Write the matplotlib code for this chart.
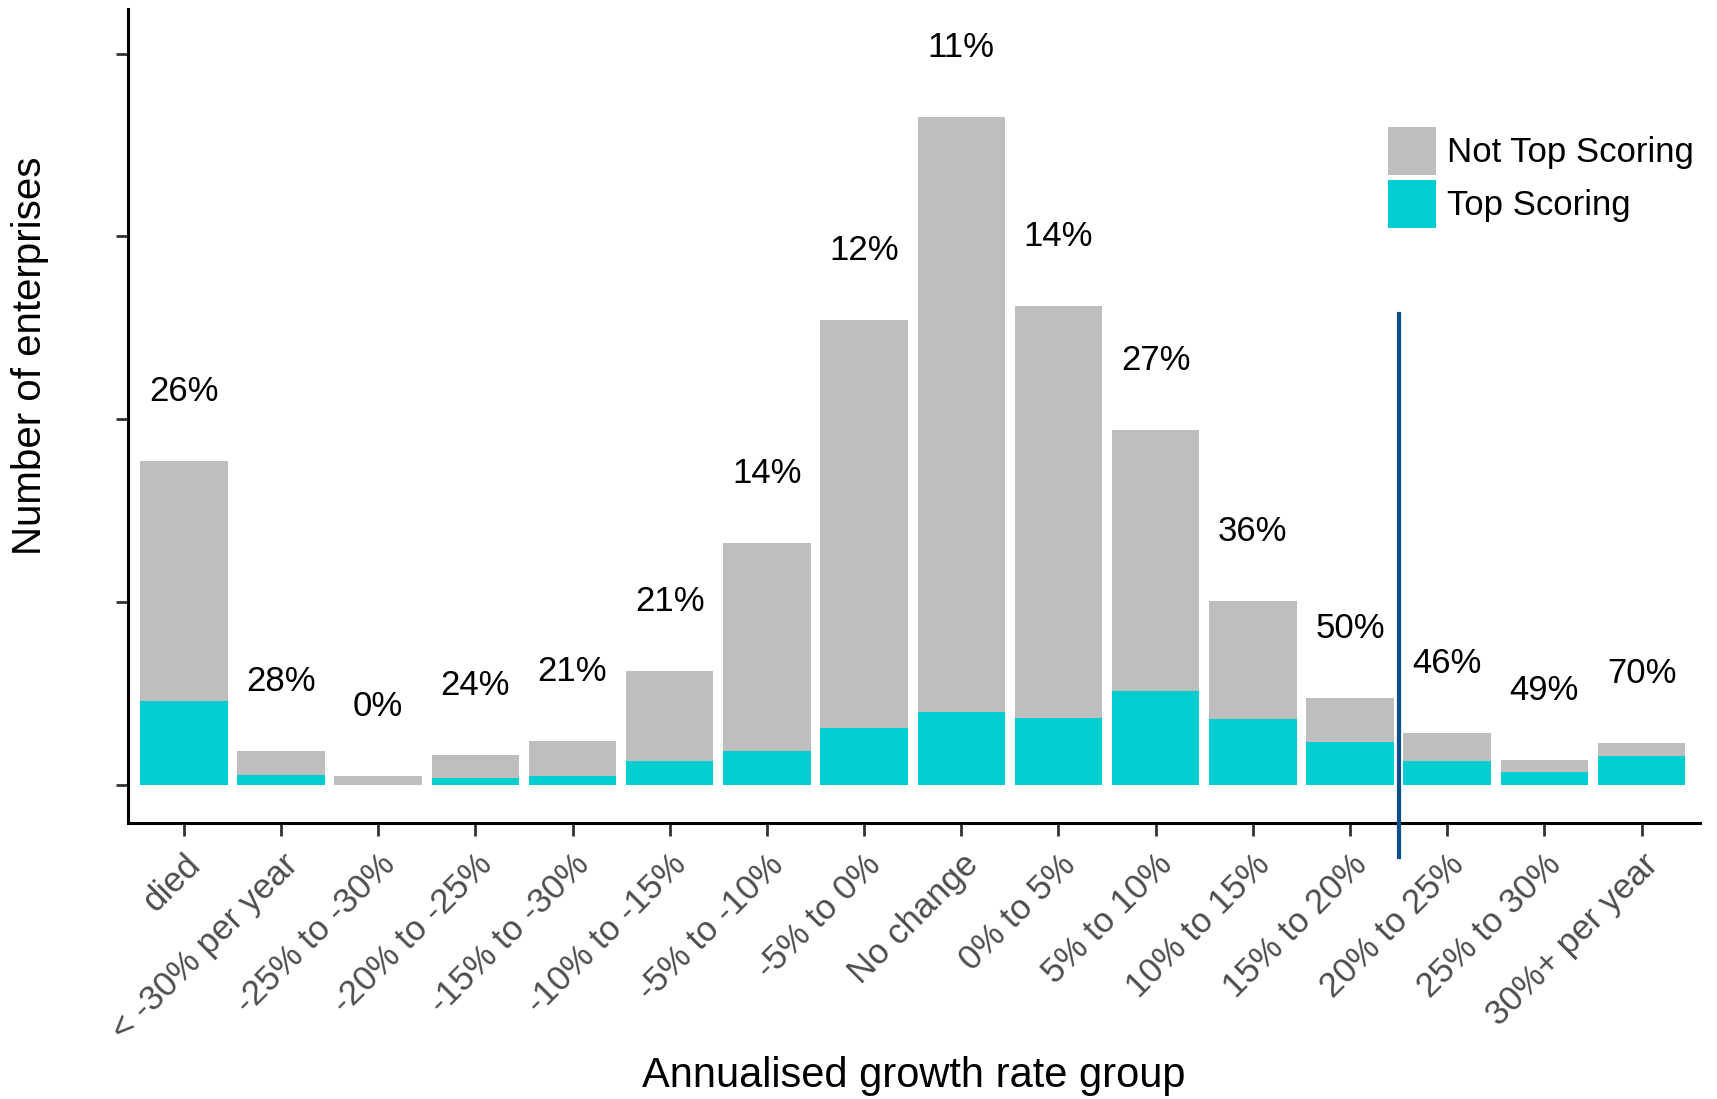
import numpy as np
import matplotlib.pyplot as plt
from matplotlib.patches import Patch

plt.rcParams['font.family'] = ['Liberation Sans', 'DejaVu Sans']

# ------------------------------------
#               - Data -
# ------------------------------------

groups = ["died", "< -30% per year", "-25% to -30%", "-20% to -25%", "-15% to -30%",
          "-10% to -15%", "-5% to -10%", "-5% to 0%", "No change", "0% to 5%",
          "5% to 10%", "10% to 15%", "15% to 20%", "20% to 25%", "25% to 30%",
          "30%+ per year"]

# number of enterprises (total) and top scoring ones
total = [1770, 186, 48, 162, 240, 623, 1323, 2545, 3653, 2617, 1940, 1006, 473, 281, 138, 228]
top = [460, 52, 0, 39, 50, 131, 185, 311, 400, 366, 515, 362, 236, 130, 68, 160]
share_labels = ["26%", "28%", "0%", "24%", "21%", "21%", "14%", "12%", "11%", "14%",
                "27%", "36%", "50%", "46%", "49%", "70%"]

not_top = np.array(total) - np.array(top)
x = np.arange(len(groups))

# ------------------------------------
#               - Plot -
# ------------------------------------

fig = plt.figure(figsize=(17.17, 10.99), dpi=100)
ax = fig.add_axes([0.0745, 0.251, 0.9155, 0.741])

grey = "#bebebe"
teal = "#00ced1"

ax.bar(x, top, width=0.9, color=teal)
ax.bar(x, not_top, bottom=top, width=0.9, color=grey)

for xi, t, lab in zip(x, total, share_labels):
    ax.text(xi, t + 380, lab, ha="center", va="center", fontsize=25, color="black")

# threshold line between 15-20% and 20-25%
ax.plot([12.5, 12.5], [2575, -395], color="#0b4f8a", lw=3, clip_on=False, zorder=5)

ax.set_xlim(-0.575, 15.6)
ax.set_ylim(-210, 4245)
ax.set_yticks([0, 1000, 2000, 3000, 4000])
ax.set_yticklabels([])
ax.set_xticks(x)
ax.set_xticklabels(groups, rotation=45, ha="right", va="top", rotation_mode="anchor",
                   fontsize=25, color="#4d4d4d")

for s in ["top", "right"]:
    ax.spines[s].set_visible(False)
for s in ["left", "bottom"]:
    ax.spines[s].set_linewidth(2.2)
ax.tick_params(axis="both", length=9, width=2, color="#333333")
ax.tick_params(axis="x", pad=9)

ax.set_xlabel("Annualised growth rate group", fontsize=30, va="center")
ax.xaxis.set_label_coords(0.5, -0.31)
ax.set_ylabel("Number of enterprises", fontsize=29, va="center")
ax.yaxis.set_label_coords(-0.062, 0.574)

handles = [Patch(facecolor=grey, label="Not Top Scoring"),
           Patch(facecolor=teal, label="Top Scoring")]
ax.legend(handles=handles, loc="upper left", bbox_to_anchor=(0.7925, 0.872), frameon=False,
          fontsize=25, handlelength=1.4, handleheight=1.75, handletextpad=0.3,
          labelspacing=0.15, borderaxespad=0)

plt.savefig("out.png", dpi=100)
